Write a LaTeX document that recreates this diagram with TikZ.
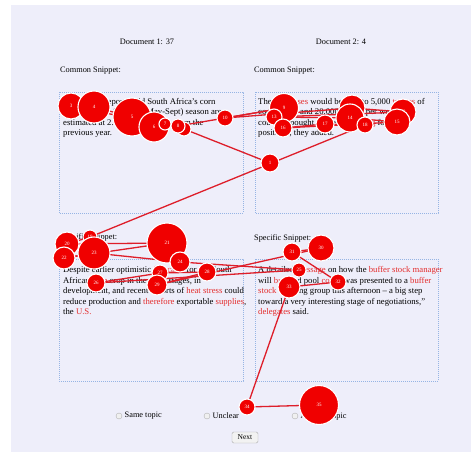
\documentclass[tikz,border=0pt]{standalone}
\usepackage{fontspec}
\setmainfont{Liberation Serif}
\usepackage{xcolor}
\usepackage{tikz}

\definecolor{pagebg}{RGB}{238,238,250}
\definecolor{boxblue}{RGB}{150,180,228}
\definecolor{keyred}{RGB}{228,45,45}
\definecolor{fixred}{RGB}{240,0,0}
\definecolor{scanred}{RGB}{222,30,42}
\newcommand{\kw}[1]{\textcolor{keyred}{#1}}
\pgfdeclarelayer{bg}
\pgfdeclarelayer{scan}
\pgfsetlayers{bg,scan,main}

\begin{document}
\begin{tikzpicture}[x=1pt,y=-1pt,
    fix/.style={circle,fill=fixred,draw=white,line width=1.1pt,minimum size=2*#1pt,inner sep=0pt,
        text=white,font=\fontsize{5}{5}\selectfont},
    scan/.style={draw=scanred,line width=1.3pt},
    snippet/.style={anchor=north west,inner sep=0pt,align=left,font=\fontsize{8.7}{10.4}\selectfont},
    heading/.style={anchor=west,inner sep=0pt,font=\fontsize{8.3}{10}\selectfont},
    snipbox/.style={draw=boxblue,line width=0.6pt,dash pattern=on 0.8pt off 1.2pt},
    radio/.style={circle,draw=gray!60,fill=gray!12,minimum size=6pt,inner sep=0pt}]
    \useasboundingbox (0,0) rectangle (471,452);
    \begin{pgfonlayer}{bg}
        \fill[pagebg] (11,5) rectangle (471,452);
        \node[font=\fontsize{8.3}{10}\selectfont] (doc1) at (147,42) {Document 1: 37};
        \node[font=\fontsize{8.3}{10}\selectfont] (doc2) at (341,42) {Document 2: 4};
        \node[heading] (common1) at (60,71) {Common Snippet:};
        \node[heading] (common2) at (254,71) {Common Snippet:};
        \node[heading] (specific1) at (60,237) {Specific Snippet:};
        \node[heading] (specific2) at (254,238) {Specific Snippet:};
        \draw[snipbox] (59,92) rectangle (243,213);
        \draw[snipbox] (255,92) rectangle (438,213);
        \draw[snipbox] (59,259) rectangle (243,381);
        \draw[snipbox] (255,259) rectangle (438,381);
        \node[snippet] (text1) at (63,98) {Grain trade reports said South Africa's corn\\
            \kw{exports} in the 1987/88 (May-Sept) season are\\
            estimated at 2.1 mln tonnes, up from the\\
            previous year.};
        \node[snippet] (text2) at (258,98) {The \kw{purchases} would be held to 5,000 \kw{tonnes} of\\
            cocoa daily and 20,000 tonnes per week,\\
            could be bought in the \kw{continuing} forward\\
            positions, they added.};
        \node[snippet] (text3) at (63,266.5) {Despite earlier optimistic \kw{forecasts} for the South\\
            African \kw{corn} crop in the early stages, in\\
            development, and recent reports of \kw{heat stress} could\\
            reduce production and \kw{therefore} exportable \kw{supplies},\\
            the \kw{U.S.}};
        \node[snippet] (text4) at (258,266.5) {A detailed \kw{message} on how the \kw{buffer stock manager}\\
            will \kw{buy} and pool \kw{cocoa} was presented to a \kw{buffer}\\
            \kw{stock} working group this afternoon -- a big step\\
            toward a very interesting stage of negotiations,''\\
            \kw{delegates} said.};
        \node[radio] (radio1) at (119,416) {};
        \node[heading] (same) at (124.5,416) {Same topic};
        \node[radio] (radio2) at (207,416) {};
        \node[heading] (unclear) at (212.5,416) {Unclear};
        \node[radio] (radio3) at (295,416) {};
        \node[heading] (other) at (300.5,416) {Another topic};
        \node[draw=gray!65,fill=gray!10,rounded corners=1.5pt,minimum width=26pt,minimum height=11pt,
            inner sep=0pt,font=\fontsize{7.5}{8}\selectfont] (next) at (245,437.5) {Next};
    \end{pgfonlayer}
    \foreach \n/\x/\y/\r in {1/270/163/9, 2/184/129/7, 3/71/106/13, 4/94/107/16, 5/132/117/19,
        6/154/127/15, 7/165/124/6, 8/178/126/7, 9/284/108/14.5, 10/225/118/8,
        11/352/108/13, 12/403/112/13, 13/274/117/8, 14/350/118/14, 15/397/122/13,
        16/283/128/9, 17/325/124/9, 18/365/125/8, 19/90/237/7, 20/67/244/12,
        21/167/243/20, 22/64/258/11, 23/94/253/16, 24/180/262/10, 25/299/270/7,
        26/96/283/9, 27/160/273/8, 28/207/272/9, 29/157/285/10, 30/321/248/13,
        31/292/252/9, 32/338/282/8, 33/289/287/11, 34/247/407/8, 35/319/405/19.5}
        \node[fix=\r] (f\n) at (\x,\y) {\n};
    \begin{pgfonlayer}{scan}
        \foreach \a [evaluate=\a as \b using int(\a+1)] in {1,...,34}
            \draw[scan] (f\a.center) -- (f\b.center);
    \end{pgfonlayer}
\end{tikzpicture}
\end{document}
